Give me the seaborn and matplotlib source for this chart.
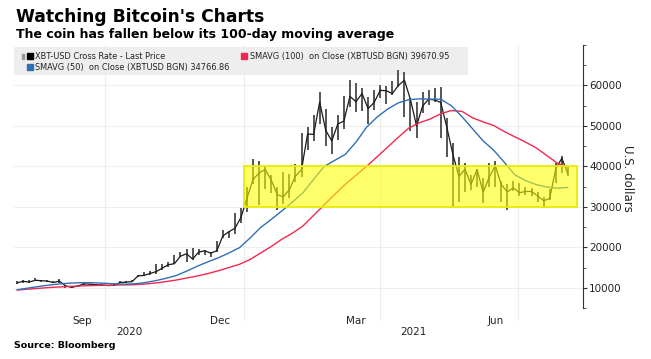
import matplotlib
matplotlib.use('Agg')
import matplotlib.pyplot as plt
import matplotlib.dates as mdates
from matplotlib.patches import Rectangle
from matplotlib.transforms import blended_transform_factory
import seaborn as sns
import pandas as pd

# ---------------- data ----------------
price_start = '2020-08-04'          # price bars, one every 4 days
close = [11200, 11600, 11400, 11850, 11750, 11650, 11300, 11650, 10500, 10100,
         10400, 10950, 10900, 10750, 10700, 10550, 10600, 11300, 11400, 11500,
         12950, 13050, 13550, 14000, 14850, 15700, 15950, 17800, 18400, 17100,
         18800, 19150, 18550, 19150, 22800, 23850, 24700, 27400, 32200, 36800,
         38400, 39200, 36600, 33000, 32500, 34300, 37600, 39200, 48000, 47900,
         55900, 48900, 46300, 50500, 51200, 57300, 56000, 58000, 54300, 55800,
         58800, 58700, 58000, 60000, 61300, 56500, 50000, 54900, 56600, 56400,
         55800, 49700, 43000, 37500, 39300, 35600, 39200, 33600, 37300, 40200,
         35500, 33700, 34700, 33500, 33800, 33800, 32700, 31500, 32100, 39400,
         42000, 38200]
high = [11700, 11900, 11800, 12450, 11950, 11800, 11700, 12050, 10800, 10500,
        10600, 11100, 11050, 10950, 10950, 10700, 11000, 11700, 11600, 12000,
        13200, 13850, 14100, 15800, 15950, 16400, 18000, 18900, 19500, 19850,
        19600, 19400, 18900, 21500, 24200, 24100, 28400, 29600, 34800, 41900,
        41400, 40000, 37800, 34900, 38500, 38100, 40500, 48200, 49700, 52600,
        58300, 54200, 49800, 52600, 57400, 61300, 60600, 59400, 57200, 59000,
        60100, 59800, 61200, 63800, 63300, 57000, 55900, 58400, 58900, 59300,
        59500, 52000, 45800, 42200, 40800, 37900, 39400, 37200, 40900, 41300,
        36400, 35600, 36500, 35900, 35000, 34600, 33700, 32400, 34500, 40900,
        42600, 39800]
low = [11000, 11300, 11100, 11700, 11450, 11400, 11150, 11100, 9900, 9900,
       10200, 10700, 10350, 10550, 10600, 10400, 10550, 11200, 11250, 11350,
       12700, 12900, 13200, 13500, 14400, 15100, 15800, 17700, 16400, 16800,
       18200, 18000, 17600, 18900, 22400, 22300, 23400, 26000, 28800, 35700,
       30400, 34400, 33400, 29100, 30800, 32200, 36200, 37300, 44000, 46200,
       50400, 45000, 43000, 46500, 49300, 54600, 53500, 53700, 50400, 53900,
       56800, 55500, 57700, 59700, 52100, 48800, 47000, 53100, 55100, 55800,
       46900, 42200, 30000, 31200, 33600, 34100, 34800, 31000, 34800, 34900,
       31300, 29100, 33800, 32700, 32900, 32700, 31100, 29600, 31700, 35800,
       38300, 37600]

sma_start = '2020-08-04'            # moving averages, one point per week
sma50 = [9500, 9900, 10300, 10650, 10950, 11150, 11250, 11250, 11150, 11000,
         10900, 10950, 11250, 11700, 12300, 13000, 14100, 15300, 16400, 17400,
         18600, 19900, 22300, 24900, 26900, 29000, 31200, 33500, 36800, 40000,
         41500, 43000, 46000, 49700, 52200, 54200, 55700, 56500, 56700, 56600,
         56600, 55000, 52300, 49300, 46300, 44000, 41000, 37900, 36500, 35500,
         34900, 34600, 34800]
sma100 = [9450, 9650, 9850, 10050, 10200, 10350, 10450, 10550, 10600, 10650,
          10700, 10750, 10900, 11150, 11500, 11900, 12400, 12900, 13500, 14200,
          15000, 15800, 17000, 18600, 20200, 22000, 23500, 25300, 27900, 30500,
          33100, 35600, 37800, 40000, 42400, 44800, 47200, 49500, 50800, 51700,
          53000, 53800, 53600, 52000, 51000, 50100, 48600, 47300, 46000, 44600,
          42700, 40800, 39700]

box_start, box_end = '2021-01-01', '2021-08-09'
box_low, box_high = 30000, 40000

month_ticks = ['2020-09-16', '2020-12-16', '2021-03-16', '2021-06-16']
month_labels = ['Sep', 'Dec', 'Mar', 'Jun']
year_pos = ['2020-10-17', '2021-04-23']
year_labels = ['2020', '2021']
quarter_lines = ['2020-10-01', '2021-01-01', '2021-04-01', '2021-07-01']
y_major = [10000, 20000, 30000, 40000, 50000, 60000]

legend_price = 'XBT-USD Cross Rate - Last Price'
legend_100 = 'SMAVG (100)  on Close (XBTUSD BGN) 39670.95'
legend_50 = 'SMAVG (50)  on Close (XBTUSD BGN) 34766.86'

# ---------------- build frames ----------------
price_dates = pd.date_range(price_start, periods=len(close), freq='4D')
sma_dates = pd.date_range(sma_start, periods=len(sma50), freq='7D')
price_df = pd.DataFrame({'date': price_dates, 'close': close, 'high': high, 'low': low})
sma_df = pd.DataFrame({'date': sma_dates, 'sma50': sma50, 'sma100': sma100})

sns.set_theme(style='white')
plt.rcParams['font.family'] = ['DejaVu Sans']

RED = '#f2294e'
BLUE = '#2f6fb5'

W, H = 651, 359
fig = plt.figure(figsize=(W / 100, H / 100), dpi=100)
fx = lambda px: px / W
fy = lambda py: 1 - py / H

ax_l, ax_r, ax_t, ax_b = 14, 583, 45, 308
ax = fig.add_axes([fx(ax_l), fy(ax_b), (ax_r - ax_l) / W, (ax_b - ax_t) / H])
ax.set_facecolor('white')

# grid
for yv in y_major:
    ax.axhline(yv, color='#eeeeee', lw=0.8, zorder=0)
for d in quarter_lines:
    ax.axvline(pd.Timestamp(d), ymin=-0.046, ymax=1, color='#ececec', lw=0.8,
               zorder=0, clip_on=False)

# legend band (behind data)
ax.add_patch(Rectangle((0, 0.886), 0.798, 0.106, transform=ax.transAxes,
                       facecolor='#eeeeee', edgecolor='none', zorder=0.5))

# moving averages
sns.lineplot(data=sma_df, x='date', y='sma100', color=RED, lw=1.0, ax=ax, zorder=3)
sns.lineplot(data=sma_df, x='date', y='sma50', color=BLUE, lw=1.0, ax=ax, zorder=3)

# price bars
ax.vlines(price_df['date'], price_df['low'], price_df['high'], color='#555555',
          lw=1.4, zorder=2)
sns.lineplot(data=price_df, x='date', y='close', color='#1a1a1a', lw=0.9, ax=ax,
             zorder=2.5)

# highlighted range
x0 = mdates.date2num(pd.Timestamp(box_start))
x1 = mdates.date2num(pd.Timestamp(box_end))
ax.add_patch(Rectangle((x0, box_low), x1 - x0, box_high - box_low,
                       facecolor=(1, 1, 0, 0.58), edgecolor=(0.92, 0.92, 0.0, 1),
                       lw=1.3, zorder=5))

ax.set_xlim(pd.Timestamp('2020-08-02'), pd.Timestamp('2021-08-13'))
ax.set_ylim(5000, 70000)
ax.set_xlabel('')
ax.set_ylabel('')

for s in ['top', 'left', 'bottom']:
    ax.spines[s].set_visible(False)
ax.spines['right'].set_color('#333333')
ax.spines['right'].set_linewidth(0.8)

ax.yaxis.tick_right()
ax.set_yticks(y_major)
ax.set_yticklabels([str(v) for v in y_major], fontsize=7.5, color='#222222')
ax.set_yticks(list(range(5000, 70001, 5000)), minor=True)
ax.tick_params(axis='y', which='major', direction='out', length=3, width=0.8,
               color='#333333', pad=1.5)
ax.tick_params(axis='y', which='minor', direction='out', length=2, width=0.6,
               color='#333333')

ax.set_xticks([pd.Timestamp(d) for d in month_ticks])
ax.set_xticklabels(month_labels, fontsize=7.5, color='#222222')
ax.tick_params(axis='x', length=0, pad=6)
trans = blended_transform_factory(ax.transData, ax.transAxes)
for d, lab in zip(year_pos, year_labels):
    ax.text(pd.Timestamp(d), -0.092, lab, transform=trans, ha='center', va='center',
            fontsize=7.5, color='#222222')

fig.text(fx(627), fy(178), 'U.S. dollars', rotation=270, ha='center', va='center',
         fontsize=8.5, color='#222222')

# titles
fig.text(fx(16), fy(22), "Watching Bitcoin's Charts", fontsize=12.3, fontweight='bold',
         color='black', va='baseline', ha='left')
fig.text(fx(16), fy(38), 'The coin has fallen below its 100-day moving average',
         fontsize=9, fontweight='bold', color='black', va='baseline', ha='left')
fig.text(fx(14), fy(345), 'Source: Bloomberg', fontsize=6.8, fontweight='bold',
         color='black', va='center', ha='left')

# legend entries
def sq(px, py, color):
    fig.patches.append(Rectangle((fx(px), fy(py + 6)), 6 / W, 6 / H, color=color,
                                 transform=fig.transFigure, figure=fig, zorder=10))

LEG = dict(fontsize=6.6, fontstretch='condensed', color='#222222', va='baseline',
           ha='left')
sq(27, 52.5, 'black')
fig.patches.append(Rectangle((fx(22), fy(59)), 2 / W, 5 / H, color='#999999',
                             transform=fig.transFigure, figure=fig, zorder=10))
fig.text(fx(35), fy(59), legend_price, **LEG)
sq(241, 52.5, RED)
fig.text(fx(250), fy(59), legend_100, **LEG)
sq(27, 63.5, BLUE)
fig.text(fx(35), fy(70), legend_50, **LEG)

fig.savefig('out.png', dpi=100)
